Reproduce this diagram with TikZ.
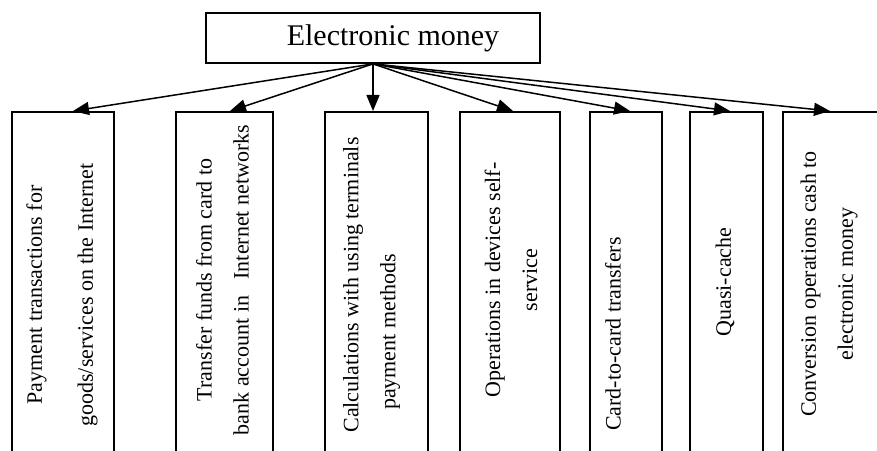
\documentclass[tikz,border=0pt]{standalone}
\usepackage{fontspec}
\setmainfont{Liberation Serif}
\usetikzlibrary{arrows.meta}

\begin{document}
\begin{tikzpicture}[x=1pt,y=1pt,
    kind/.style={draw,line width=1.6pt,minimum height=380pt,anchor=north,inner sep=0pt},
    lbl/.style={rotate=90,align=center,inner sep=0pt,font=\fontsize{22}{37}\selectfont},
    link/.style={line width=1.5pt,-{Triangle[length=16pt,width=13pt]}}]
  \useasboundingbox (0,0) rectangle (877,450);
  \clip (0,0) rectangle (877,450);
  % root
  \node[draw,line width=1.8pt,minimum width=334pt,minimum height=50pt,inner sep=0pt,
        font=\fontsize{30}{32}\selectfont] (money) at (373,412) {\hspace*{40pt}Electronic money};
  % kinds of operations
  \node[kind,minimum width=102pt] (pay)   at (63,339)    {};
  \node[kind,minimum width=97pt]  (trans) at (224.5,339) {};
  \node[kind,minimum width=103pt] (calc)  at (376.5,339) {};
  \node[kind,minimum width=100pt] (self)  at (510,339)   {};
  \node[kind,minimum width=72pt]  (card)  at (626,339)   {};
  \node[kind,minimum width=73pt]  (quasi) at (726.5,339) {};
  \node[kind,minimum width=100pt] (conv)  at (833,339)   {};
  \node[lbl] (payt)   at (62,155)    {Payment transactions for\\[14pt]goods/services on the Internet};
  \node[lbl] (transt) at (222.5,170) {Transfer funds from card to\\bank account in\ \ \ Internet networks};
  \node[lbl] (calct)  at (371.5,165) {Calculations with using terminals\\payment methods\hspace*{94pt}};
  \node[lbl] (selft)  at (511,170)   {Operations in devices self-\\service};
  \node[lbl] (cardt)  at (613,116)   {Card-to-card transfers};
  \node[lbl] (quasit) at (725,168)   {Quasi-cache};
  \node[lbl] (convt)  at (829,166)   {Conversion operations cash to\\electronic money};
  % arrows
  \draw[link] (money.south) -- ([xshift=10pt]pay.north);
  \draw[link] (money.south) -- ([xshift=5.5pt]trans.north);
  \draw[link] (money.south) -- ([xshift=-3.5pt]calc.north);
  \draw[link] (money.south) -- ([xshift=3pt]self.north);
  \draw[link] (money.south) -- ([xshift=4pt]card.north);
  \draw[link] (money.south) -- ([xshift=3.5pt]quasi.north);
  \draw[link] (money.south) -- ([xshift=-3pt]conv.north);
\end{tikzpicture}
\end{document}
